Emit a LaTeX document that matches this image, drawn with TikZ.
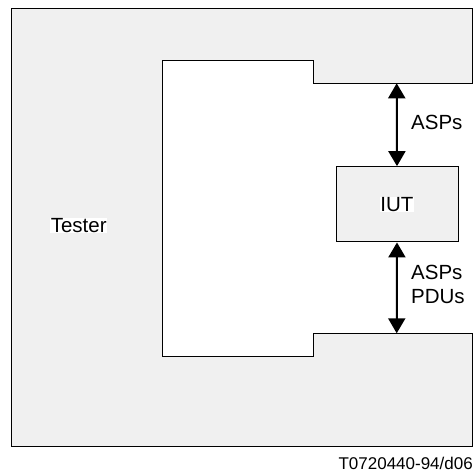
\documentclass[tikz,border=0pt]{standalone}
\usepackage{fontspec}
\setmainfont{Liberation Sans}
\usetikzlibrary{arrows.meta}
\begin{document}
\begin{tikzpicture}[x=1pt,y=-1pt,
  outline/.style={draw=black,line width=1pt},
  graybox/.style={outline,fill={rgb,255:red,240;green,240;blue,240}},
  lbl/.style={font=\fontsize{20.5}{24}\selectfont,inner sep=0.5pt},
  biarrow/.style={line width=2pt,{Triangle[length=15pt,width=17pt]}-{Triangle[length=15pt,width=17pt]}}]
\useasboundingbox (0,0) rectangle (473,474);
% Tester shape
\path[graybox,even odd rule]
  (11.3,8.3) -- (472.7,8.3) -- (472.7,83.3) -- (313.7,83.3) -- (313.7,60.7) -- (162.3,60.7)
  -- (162.3,356) -- (313.7,356) -- (313.7,333.3) -- (472.7,333.3) -- (472.7,446.7) -- (11.3,446.7) -- cycle;
\coordinate (top) at (396.7,83.3);
\coordinate (bot) at (396.7,333.3);
\node[graybox,minimum width=122pt,minimum height=75.3pt,inner sep=0pt] (iut) at (397,204.3) {};
\node[lbl,fill=white] (iutl) at (iut) {IUT};
\node[lbl,fill=white] (tester) at (78.7,225.7) {Tester};
\draw[biarrow] (top) -- (iut.north);
\draw[biarrow] (iut.south) -- (bot);
\node[lbl,anchor=west] (asp1) at (410.5,122) {ASPs};
\node[lbl,anchor=west,align=left] (asp2) at (410.5,284.5) {ASPs\\PDUs};
\node[font=\fontsize{17}{20}\selectfont,anchor=east,inner sep=0pt] (code) at (473,463) {T0720440-94/d06};
\end{tikzpicture}
\end{document}
